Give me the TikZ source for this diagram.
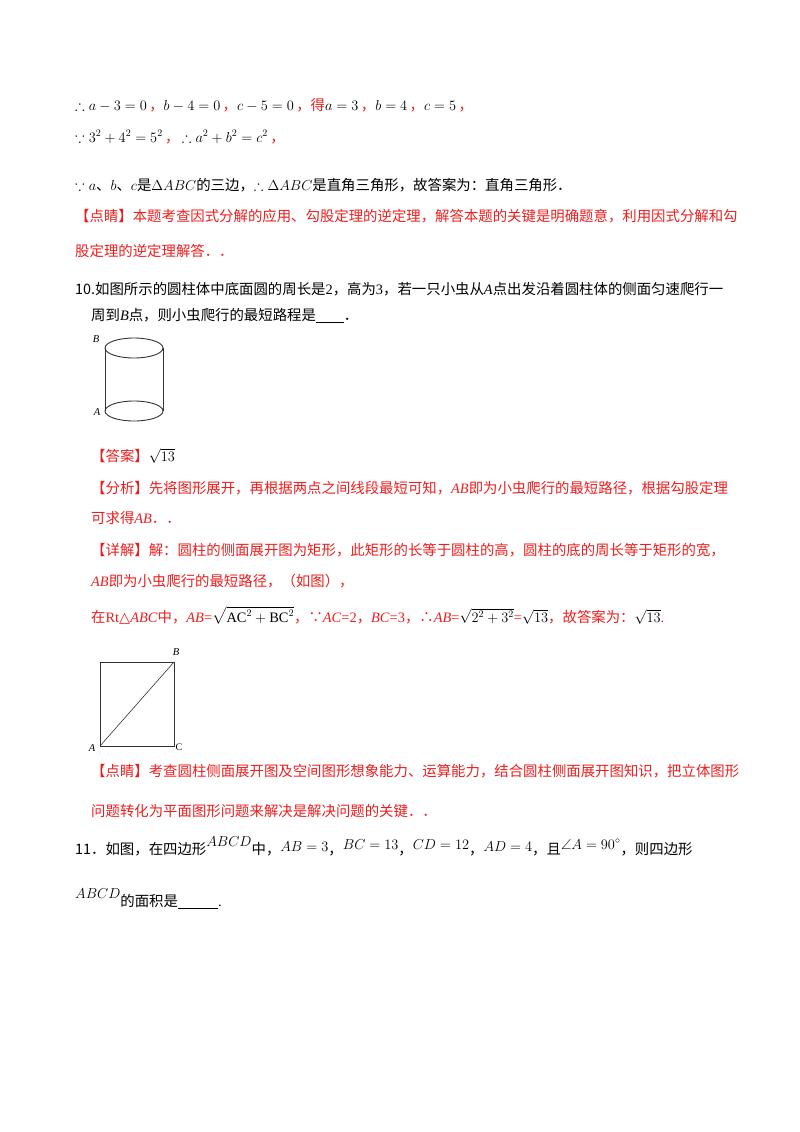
\documentclass[tikz,border=0pt]{standalone}
\usepackage{amssymb}
\usepackage{fontspec}
\setmainfont{Liberation Serif}
\newfontfamily\cjk{Noto Sans CJK SC}
\newfontfamily\djsym{DejaVu Sans}
\definecolor{qred}{RGB}{235,30,30}
\begin{document}
\begin{tikzpicture}[x=1pt,y=-1pt,
  ln/.style={anchor=base west,inner sep=0pt,font=\fontsize{14.4}{16}\selectfont},
  rl/.style={ln,text=qred},
  fig/.style={line width=0.9pt,black!80},
  lab/.style={font=\fontsize{10.5}{11}\selectfont\itshape,inner sep=0pt}]
\useasboundingbox (0,0) rectangle (800,1132);
\node[ln] (l1) at (75,110) {$\therefore a-3=0$\,\textcolor{qred}{\cjk ，}$b-4=0$\,\textcolor{qred}{\cjk ，}$c-5=0$\,\textcolor{qred}{\cjk ，得}$a=3$\,\textcolor{qred}{\cjk ，}$b=4$\,\textcolor{qred}{\cjk ，}$c=5$\,\textcolor{qred}{\cjk ，}};
\node[ln] (l2) at (75,142) {$\because 3^2+4^2=5^2$\,\textcolor{qred}{\cjk ，}\,$\therefore a^2+b^2=c^2$\,\textcolor{qred}{\cjk ，}};
\node[ln] (l3) at (75,190) {$\because a${\cjk 、}$b${\cjk 、}$c${\cjk 是}$\Delta ABC${\cjk 的三边，}$\therefore\Delta ABC${\cjk 是直角三角形，故答案为：直角三角形．}};
\node[rl] (l4) at (75,221) {\cjk 【点睛】本题考查因式分解的应用、勾股定理的逆定理，解答本题的关键是明确题意，利用因式分解和勾};
\node[rl] (l5) at (75,256) {\cjk 股定理的逆定理解答．．};
\node[ln] (l6) at (75,294) {{\cjk 10.如图所示的圆柱体中底面圆的周长是}2{\cjk ，高为}3{\cjk ，若一只小虫从}\textit{A}{\cjk 点出发沿着圆柱体的侧面匀速爬行一}};
\node[ln] (l7) at (91,320) {{\cjk 周到}\textit{B}{\cjk 点，则小虫爬行的最短路程是}\underline{\hspace{28pt}}{\cjk ．}};
% cylinder
\draw[fig] (134,348) ellipse (29 and 10);
\draw[fig] (134,411) ellipse (29 and 10);
\draw[fig] (105,348) -- (105,411);
\draw[fig] (163,348) -- (163,411);
\node[lab] (cB) at (96,339) {B};
\node[lab] (cA) at (97,412) {A};
\node[ln] (l8) at (91,461) {\textcolor{qred}{\cjk 【答案】}$\sqrt{13}$};
\node[rl] (l9) at (91,493) {{\cjk 【分析】先将图形展开，再根据两点之间线段最短可知，}\textit{AB}{\cjk 即为小虫爬行的最短路径，根据勾股定理}};
\node[rl] (l10) at (91,523) {{\cjk 可求得}\textit{AB}{\cjk ．．}};
\node[rl] (l11) at (91,555) {{\cjk 【详解】解：圆柱的侧面展开图为矩形，此矩形的长等于圆柱的高，圆柱的底的周长等于矩形的宽，}};
\node[rl] (l12) at (91,586) {\textit{AB}{\cjk 即为小虫爬行的最短路径，（如图），}};
\node[rl] (l13) at (91,622) {{\cjk 在}Rt{\djsym △}\textit{ABC}{\cjk 中，}\textit{AB}={\color{black}$\sqrt{\mathrm{AC}^2+\mathrm{BC}^2}$}{\cjk ，∵}\textit{AC}=2{\cjk ，}\textit{BC}=3{\cjk ，∴}\textit{AB}={\color{black}$\sqrt{2^2+3^2}$}={\color{black}$\sqrt{13}$}{\cjk ，故答案为：}{\color{black}$\sqrt{13}$}.};
% square
\coordinate (sA) at (100,746);
\coordinate (sC) at (174,746);
\coordinate (sB) at (174,662);
\coordinate (sD) at (100,662);
\draw[fig] (sA) -- (sC) -- (sB) -- (sD) -- cycle;
\draw[fig,line width=0.6pt] (sA) -- (sB);
\node[lab] (qB) at (176,652) {B};
\node[lab] (qA) at (92,748) {A};
\node[lab,font=\fontsize{10}{10}\selectfont] (qC) at (179,747) {C};
\node[rl] (l14) at (91,776) {\cjk 【点睛】考查圆柱侧面展开图及空间图形想象能力、运算能力，结合圆柱侧面展开图知识，把立体图形};
\node[rl] (l15) at (91,816) {\cjk 问题转化为平面图形问题来解决是解决问题的关键．．};
\node[ln] (l16) at (75,854) {{\cjk 11．如图，在四边形}\raisebox{8pt}{$ABCD$}{\cjk 中，}\raisebox{3pt}{$AB=3$}{\cjk ，}\raisebox{5pt}{$BC=13$}{\cjk ，}\raisebox{5pt}{$CD=12$}{\cjk ，}\raisebox{3pt}{$AD=4$}{\cjk ，且}\raisebox{5pt}{$\angle A=90^\circ$}{\cjk ，则四边形}};
\node[ln] (l17) at (75,906) {\raisebox{8pt}{$ABCD$}{\cjk 的面积是}\underline{\hspace{40pt}}.};
\end{tikzpicture}
\end{document}
